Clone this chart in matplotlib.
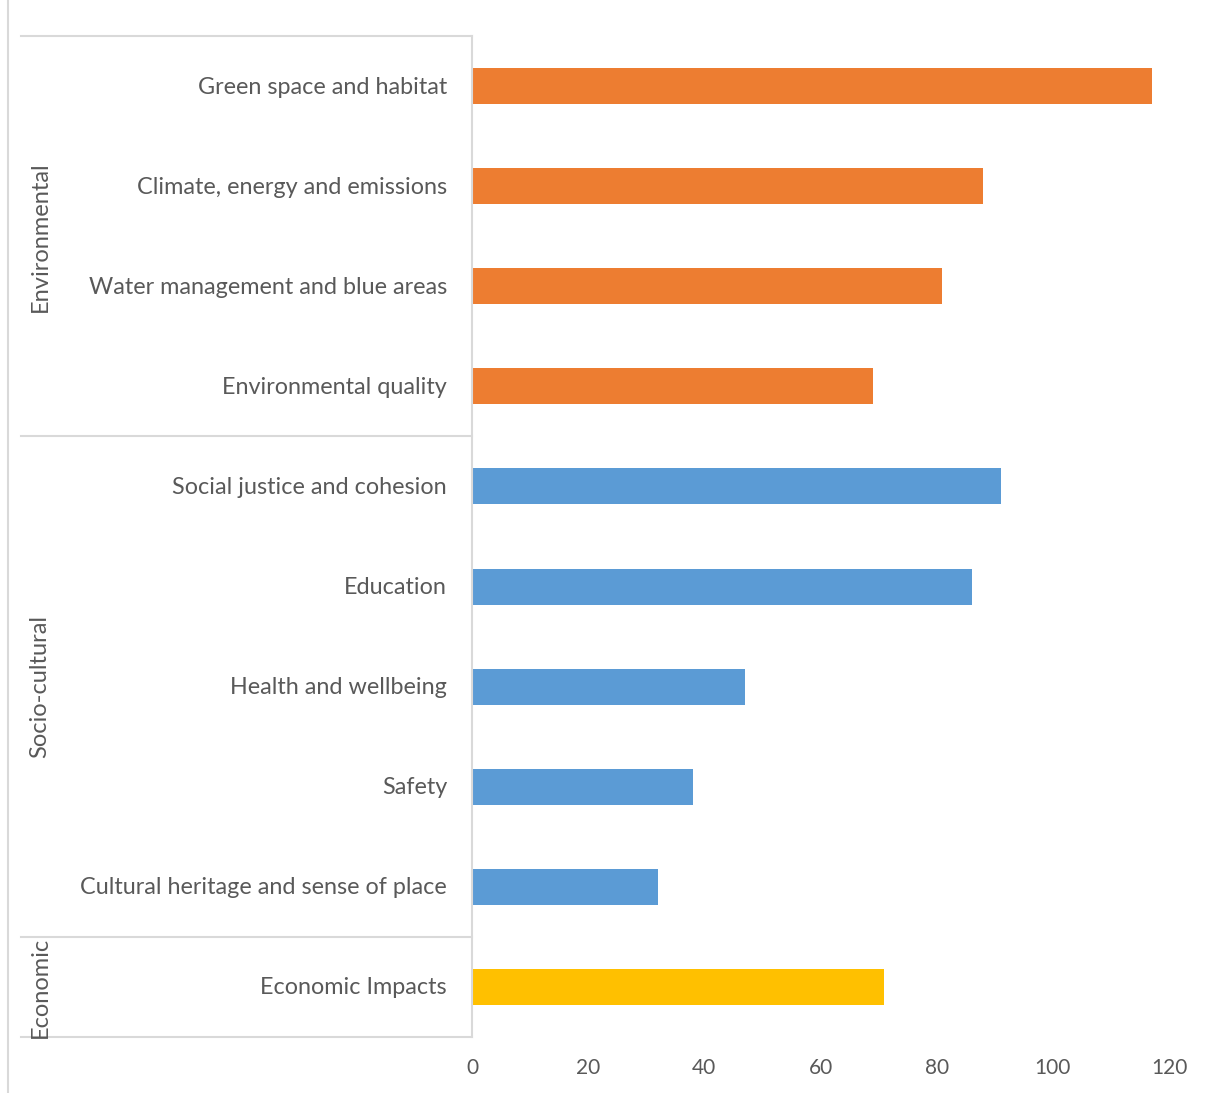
import matplotlib
matplotlib.use("Agg")
import matplotlib.pyplot as plt
from matplotlib.transforms import blended_transform_factory
from matplotlib.lines import Line2D

categories = ["Green space and habitat", "Climate, energy and emissions",
              "Water management and blue areas", "Environmental quality",
              "Social justice and cohesion", "Education", "Health and wellbeing",
              "Safety", "Cultural heritage and sense of place", "Economic Impacts"]
values = [117, 88, 81, 69, 91, 86, 47, 38, 32, 71]
groups = ["Environmental", "Socio-cultural", "Economic"]
group_sizes = [4, 5, 1]
group_colors = ["#ED7D31", "#5B9BD5", "#FFC000"]
xticks = [0, 20, 40, 60, 80, 100, 120]

plt.rcParams['font.family'] = ['Lato', 'DejaVu Sans']
txt = "#595959"
line_c = "#D9D9D9"

W, H = 1214, 1093
fig = plt.figure(figsize=(W / 100, H / 100), dpi=100)
x0, x1, y0, y1 = 472, 1169, 36, 1037
ax = fig.add_axes([x0 / W, 1 - y1 / H, (x1 - x0) / W, (y1 - y0) / H])

colors = []
for c, n in zip(group_colors, group_sizes):
    colors += [c] * n
ypos = list(range(len(categories)))
ax.barh(ypos, values, height=0.36, color=colors)
ax.set_xlim(0, 120)
ax.set_ylim(len(categories) - 0.5, -0.5)
ax.set_xticks(xticks)
ax.set_xticklabels([str(t) for t in xticks], fontsize=15, color=txt)
ax.tick_params(axis='x', length=0, pad=15)
ax.set_yticks([])
for s in ["top", "right", "bottom"]:
    ax.spines[s].set_visible(False)
ax.spines["left"].set_color(line_c)
ax.spines["left"].set_linewidth(1.5)

tr = blended_transform_factory(ax.transAxes, ax.transData)
left_frac = (21 - x0) / (x1 - x0)
for i, cat in enumerate(categories):
    ax.text(-25 / (x1 - x0), i + 0.01, cat, transform=tr, ha="right", va="center",
            fontsize=16.8, color=txt)

bounds = [-0.5]
for n in group_sizes:
    bounds.append(bounds[-1] + n)
for b in bounds:
    ax.plot([left_frac, 0], [b, b], transform=tr, color=line_c, lw=1.5, clip_on=False)
for g, a, b in zip(groups, bounds[:-1], bounds[1:]):
    ax.text((40 - x0) / (x1 - x0), (a + b) / 2, g, transform=tr, rotation=90,
            ha="center", va="center", fontsize=17, color=txt)

fig.add_artist(Line2D([8 / W, 8 / W], [0, 1], color=line_c, lw=1.5))

fig.savefig("out.png", dpi=100)
